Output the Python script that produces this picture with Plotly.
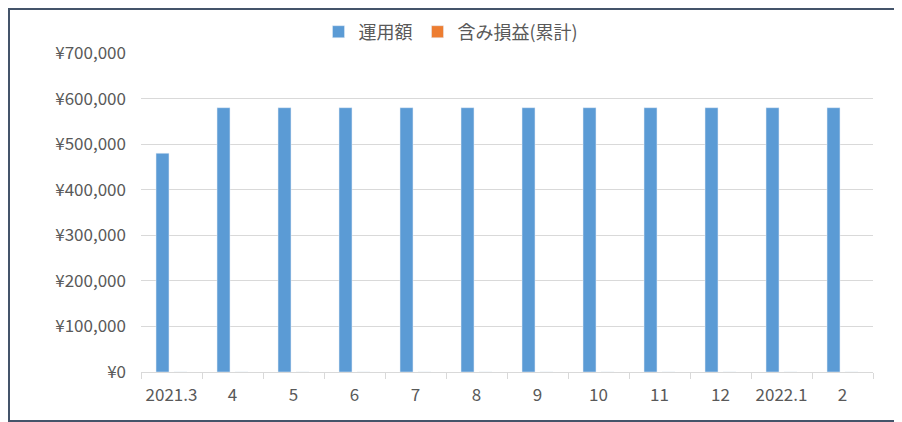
import plotly.graph_objects as go

# 月ごとのデータ
months = ["2021.3", "4", "5", "6", "7", "8", "9", "10", "11", "12", "2022.1", "2"]
amount = [480000, 580000, 580000, 580000, 580000, 580000,
          580000, 580000, 580000, 580000, 580000, 580000]
pnl = [0, 0, 0, 0, 0, 0, 0, 0, 0, 0, 0, 0]

# ページの body 余白 (8px) の分だけ小さくする
PAD = 8
W, H = 902 - PAD, 422 - PAD
ML, MR, MT, MB = 141 - PAD, 29, 53 - PAD, 50
font_jp = "Noto Sans CJK JP"

fig = go.Figure()
fig.add_trace(go.Bar(x=months, y=amount, name="運用額", marker_color="#5B9BD5"))
fig.add_trace(go.Bar(x=months, y=pnl, name="含み損益(累計)", marker_color="#ED7D31"))

pw = W - ML - MR
ph = H - MT - MB

fig.update_layout(
    width=W,
    height=H,
    margin=dict(l=ML, r=MR, t=MT, b=MB, autoexpand=False),
    paper_bgcolor="white",
    plot_bgcolor="white",
    barmode="group",
    bargap=0.41,
    bargroupgap=0.28,
    font=dict(family=font_jp, size=17, color="#595959"),
    showlegend=True,
    legend=dict(
        orientation="h",
        xref="container",
        yref="container",
        x=(451 - PAD) / W,
        xanchor="center",
        y=1 - (32 - PAD) / H,
        yanchor="middle",
        bgcolor="rgba(0,0,0,0)",
        font=dict(size=18, color="#595959"),
        itemwidth=30,
        traceorder="normal",
    ),
    xaxis=dict(
        type="category",
        showgrid=False,
        showline=True,
        linecolor="#D9D9D9",
        ticks="outside",
        tickson="boundaries",
        ticklen=6,
        tickcolor="#D9D9D9",
        tickangle=0,
        ticklabelstandoff=8,
        fixedrange=True,
    ),
    yaxis=dict(
        range=[0, 700000],
        dtick=100000,
        tickprefix="¥",
        tickformat=",",
        showgrid=True,
        gridcolor="#D9D9D9",
        zeroline=False,
        showline=False,
        ticklabelstandoff=14,
        fixedrange=True,
    ),
    shapes=[
        dict(
            type="rect",
            xref="paper",
            yref="paper",
            x0=-(ML - 1) / pw,
            x1=1 + (MR - 1) / pw,
            y0=-(MB - 1) / ph,
            y1=1 + (MT - 1) / ph,
            line=dict(color="#44546A", width=2),
            layer="above",
        )
    ],
)

fig.write_html("out.html")
